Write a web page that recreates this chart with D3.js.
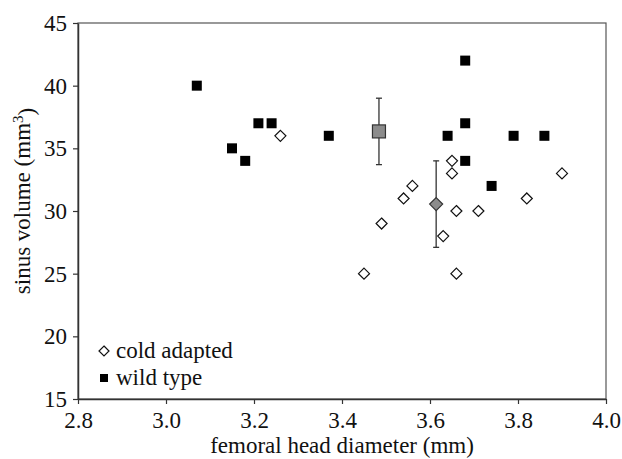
<!DOCTYPE html>
<html><head><meta charset="utf-8">
<script src="https://cdn.jsdelivr.net/npm/d3@7"></script>
</head><body style="margin:0">
<svg id="c" width="622" height="459"></svg>
<script>
const coldX = [3.26, 3.65, 3.65, 3.56, 3.54, 3.49, 3.45, 3.66, 3.71, 3.63, 3.66, 3.82, 3.90];
const coldY = [36, 34, 33, 32, 31, 29, 25, 30, 30, 28, 25, 31, 33];
const wildX = [3.07, 3.15, 3.18, 3.21, 3.24, 3.37, 3.64, 3.68, 3.68, 3.68, 3.74, 3.79, 3.86];
const wildY = [40, 35, 34, 37, 37, 36, 36, 42, 37, 34, 32, 36, 36];
const meanNames = ["wild type", "cold adapted"];
const meanX = [3.484, 3.614];
const meanY = [36.35, 30.55];
const meanErr = [2.65, 3.45];
const xTicks = [2.8, 3.0, 3.2, 3.4, 3.6, 3.8, 4.0];
const yTicks = [15, 20, 25, 30, 35, 40, 45];
const legendLabels = ["cold adapted", "wild type"];

const svg = d3.select("#c");
const m = {l: 78, r: 16, t: 23, b: 60};
const W = 622, H = 459;
const x = d3.scaleLinear().domain([2.8, 4.0]).range([m.l, W - m.r]);
const y = d3.scaleLinear().domain([15, 45]).range([H - m.b, m.t]);
const font = '"Times New Roman", "Liberation Serif", "Tinos", "FreeSerif", monospace';
const axisCol = "#333";
const FS = 23;
const setFont = (sel, size) => sel.attr("font-family", font).style("font-family", font).style("font-size", size + "px");

// frame
svg.append("rect").attr("x", m.l).attr("y", m.t).attr("width", x(4.0) - m.l).attr("height", y(15) - m.t)
  .attr("fill", "none").attr("stroke", "#555").attr("stroke-width", 1.2);

const gx = svg.append("g").attr("transform", `translate(0,${y(15)})`)
  .call(d3.axisBottom(x).tickValues(xTicks).tickFormat(d3.format(".1f")).tickSize(5).tickSizeOuter(0));
const gy = svg.append("g").attr("transform", `translate(${m.l},0)`)
  .call(d3.axisLeft(y).tickValues(yTicks).tickFormat(d3.format("d")).tickSize(5).tickSizeOuter(0));
[gx, gy].forEach(g => {
  g.attr("font-family", font).attr("font-size", FS);
  g.select(".domain").attr("stroke", axisCol).attr("stroke-width", 1.5);
  g.selectAll(".tick line").attr("stroke", axisCol).attr("stroke-width", 1.2);
  setFont(g.selectAll("text"), FS).attr("fill", "#111");
});
gx.selectAll("text").attr("y", 13).attr("dy", "0.71em");
gy.selectAll("text").attr("x", -11);

// titles
setFont(svg.append("text").attr("x", 342).attr("y", 453).attr("text-anchor", "middle"), FS)
  .attr("fill", "#111").text("femoral head diameter (mm)");
const yt = setFont(svg.append("text").attr("transform", `translate(30,201) rotate(-90)`)
  .attr("text-anchor", "middle"), FS).attr("fill", "#111");
yt.append("tspan").text("sinus volume (mm");
yt.append("tspan").attr("dy", "-0.45em").style("font-size", "15px").text("3");
yt.append("tspan").attr("dy", "0.45em").text(")");

const diamond = (s) => `M0,${-s}L${s},0L0,${s}L${-s},0Z`;

// cold adapted points
svg.append("g").selectAll("path").data(coldX.map((d, i) => [d, coldY[i]])).join("path")
  .attr("transform", d => `translate(${x(d[0])},${y(d[1])})`)
  .attr("d", diamond(5.5)).attr("fill", "#fff").attr("stroke", "#111").attr("stroke-width", 1.2);

// wild type points
svg.append("g").selectAll("rect").data(wildX.map((d, i) => [d, wildY[i]])).join("rect")
  .attr("x", d => x(d[0]) - 5).attr("y", d => y(d[1]) - 5).attr("width", 10).attr("height", 10)
  .attr("fill", "#000");

// means with error bars
const means = meanNames.map((n, i) => ({n, x: meanX[i], y: meanY[i], e: meanErr[i]}));
const mg = svg.append("g");
means.forEach(d => {
  const cx = x(d.x);
  mg.append("line").attr("x1", cx).attr("x2", cx).attr("y1", y(d.y + d.e)).attr("y2", y(d.y - d.e))
    .attr("stroke", "#333").attr("stroke-width", 1.3);
  [d.y + d.e, d.y - d.e].forEach(v => mg.append("line").attr("x1", cx - 3).attr("x2", cx + 3)
    .attr("y1", y(v)).attr("y2", y(v)).attr("stroke", "#333").attr("stroke-width", 1.3));
  if (d.n === "wild type") {
    mg.append("rect").attr("x", cx - 6.5).attr("y", y(d.y) - 6.5).attr("width", 13).attr("height", 13)
      .attr("fill", "#8c8c8c").attr("stroke", "#333").attr("stroke-width", 1.2);
  } else {
    mg.append("path").attr("transform", `translate(${cx},${y(d.y)})`).attr("d", diamond(6.5))
      .attr("fill", "#8c8c8c").attr("stroke", "#333").attr("stroke-width", 1.2);
  }
});

// legend
const lg = svg.append("g");
lg.append("path").attr("transform", "translate(104,351)").attr("d", diamond(5))
  .attr("fill", "#fff").attr("stroke", "#111").attr("stroke-width", 1.2);
lg.append("rect").attr("x", 100).attr("y", 374).attr("width", 8).attr("height", 8).attr("fill", "#000");
setFont(lg.selectAll("text").data(legendLabels).join("text")
  .attr("x", 116).attr("y", (d, i) => 358 + i * 27), FS)
  .attr("fill", "#111").text(d => d);
</script>
</body></html>
